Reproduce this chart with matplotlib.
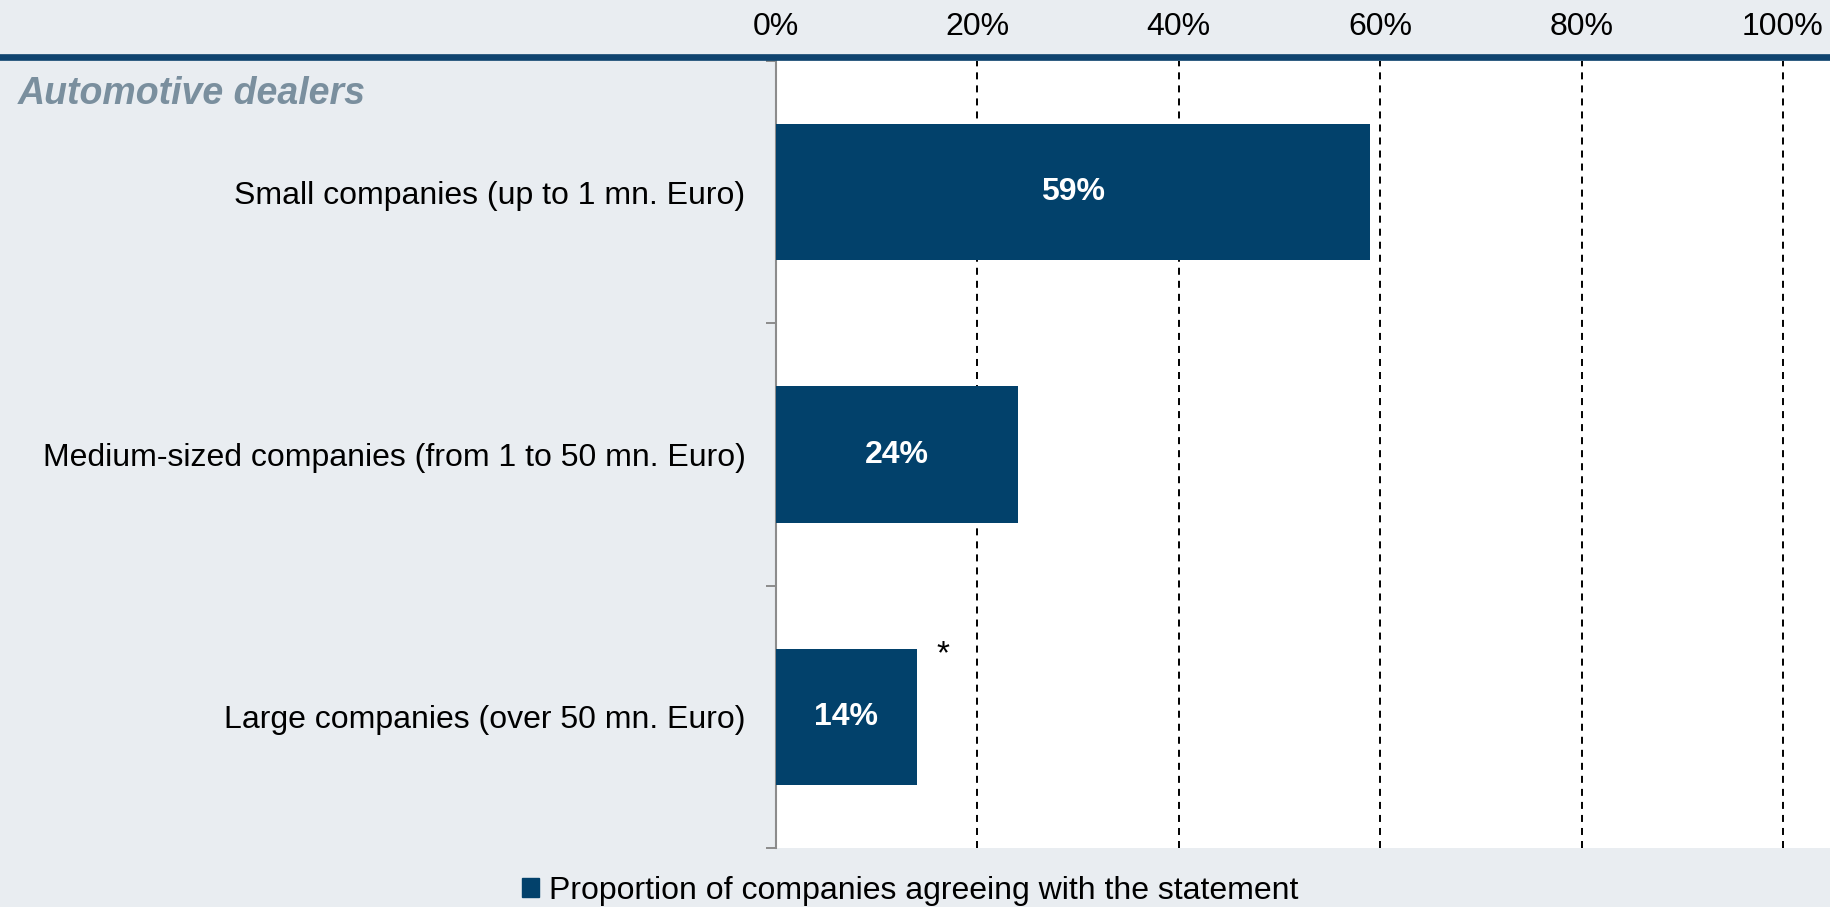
import numpy as np
import matplotlib.pyplot as plt
from matplotlib.lines import Line2D

plt.rcParams['font.family'] = ['Liberation Sans', 'DejaVu Sans']

# data
categories = ["Small companies (up to 1 mn. Euro)",
              "Medium-sized companies (from 1 to 50 mn. Euro)",
              "Large companies (over 50 mn. Euro)"]
values = [59, 24, 14]
value_labels = ["59%", "24%", "14%"]
starred = [False, False, True]
xticks = [0, 20, 40, 60, 80, 100]
xticklabels = ["0%", "20%", "40%", "60%", "80%", "100%"]
legend_label = "Proportion of companies agreeing with the statement"
group_title = "Automotive dealers"

bg = "#E9EDF1"
bar_color = "#02416B"
line_blue = "#0F446F"

fig = plt.figure(figsize=(18.31, 9.07), dpi=100, facecolor=bg)
ax = fig.add_axes([776 / 1831, 59 / 907, 1 - 776 / 1831, 787 / 907])
ax.set_facecolor("white")

y = np.arange(len(categories))
bars = ax.barh(y, values, height=0.52, color=bar_color, zorder=3)

for yi, v, lab, st in zip(y, values, value_labels, starred):
    ax.text(v / 2, yi, lab, ha="center", va="center", color="white",
            fontsize=23, fontweight="bold", zorder=4)
    if st:
        ax.text(v + 2.6, yi - 0.235, "*", ha="center", va="center",
                fontsize=24, color="black")

ax.set_xlim(0, 100 * (1831 - 776) / 1007)
ax.set_ylim(2.5, -0.5)

# x axis on top
ax.xaxis.tick_top()
ax.set_xticks(xticks)
ax.set_xticklabels(xticklabels, fontsize=23)
ax.tick_params(axis="x", length=0, pad=14)

for xv in xticks[1:]:
    ax.axvline(xv, color="black", lw=1.4, linestyle=(0, (3.6, 3.1)), zorder=2)

# y axis labels at centers, small ticks at boundaries
ax.set_yticks(y)
ax.set_yticklabels(categories, fontsize=23)
ax.tick_params(axis="y", which="major", length=0, pad=22)
ax.set_yticks([-0.5, 0.5, 1.5, 2.5], minor=True)
ax.tick_params(axis="y", which="minor", length=7, width=1.4, color="#8C8C8C")

for s in ["top", "right", "bottom"]:
    ax.spines[s].set_visible(False)
ax.spines["left"].set_color("#8C8C8C")
ax.spines["left"].set_linewidth(1.5)

# blue rule across the top
fig.add_artist(Line2D([0, 1], [1 - 56.5 / 907] * 2, transform=fig.transFigure,
                      color=line_blue, lw=4.8))

fig.text(18 / 1831, 1 - 94 / 907, group_title, fontsize=27, fontweight="bold",
         fontstyle="italic", color="#7A8F9E", va="center", ha="left")

handle = plt.Rectangle((0, 0), 1, 1, color=bar_color)
fig.legend([handle], [legend_label], loc="center", bbox_to_anchor=(0.497, 1 - 891 / 907),
           frameon=False, fontsize=23, handlelength=0.55, handleheight=0.55,
           handletextpad=0.3, borderpad=0.1)

fig.savefig("out.png", dpi=100, facecolor=bg)
